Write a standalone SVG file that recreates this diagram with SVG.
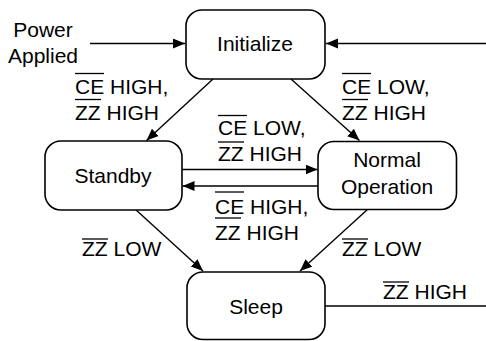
<svg xmlns="http://www.w3.org/2000/svg" width="486" height="341" viewBox="0 0 486 341">
<style>
.box{fill:#fff;stroke:#000;stroke-width:1.6}
.t{font-family:"Liberation Sans",Arial,sans-serif;font-size:21px;fill:#000}
.c{stroke:#000;stroke-width:1.4;fill:none}
.ol{stroke:#000;stroke-width:1.3}
</style>
<defs>
<marker id="ah" markerUnits="userSpaceOnUse" markerWidth="13" markerHeight="11" refX="12" refY="5" orient="auto">
<path d="M0,0 L12,5 L0,10 z" fill="#000"/>
</marker>
</defs>
<rect width="486" height="341" fill="#fff"/>
<g id="connectors">
<line class="c" x1="90" y1="43.5" x2="185" y2="43.5" marker-end="url(#ah)"/>
<line class="c" x1="486" y1="43.5" x2="326" y2="43.5" marker-end="url(#ah)"/>
<line class="c" x1="213" y1="79" x2="146.5" y2="140.5" marker-end="url(#ah)"/>
<line class="c" x1="291" y1="79" x2="359.5" y2="140.5" marker-end="url(#ah)"/>
<line class="c" x1="182" y1="169.5" x2="317.5" y2="169.5" marker-end="url(#ah)"/>
<line class="c" x1="318" y1="186" x2="182.5" y2="186" marker-end="url(#ah)"/>
<line class="c" x1="135" y1="209" x2="203" y2="271" marker-end="url(#ah)"/>
<line class="c" x1="368" y1="209" x2="300" y2="271" marker-end="url(#ah)"/>
<line class="c" x1="325" y1="306" x2="486" y2="306"/>
</g>
<g id="labels">
<text class="t" x="43" y="37" text-anchor="middle">Power</text>
<text class="t" x="43" y="63" text-anchor="middle">Applied</text>
<text class="t" x="75" y="94">CE HIGH,</text>
<line class="ol" x1="75" y1="73.5" x2="104" y2="73.5"/>
<text class="t" x="75" y="120">ZZ HIGH</text>
<line class="ol" x1="75" y1="99.5" x2="101" y2="99.5"/>
<text class="t" x="342" y="94">CE LOW,</text>
<line class="ol" x1="342" y1="73.5" x2="371" y2="73.5"/>
<text class="t" x="342" y="120">ZZ HIGH</text>
<line class="ol" x1="342" y1="99.5" x2="368" y2="99.5"/>
<text class="t" x="218" y="135">CE LOW,</text>
<line class="ol" x1="218" y1="115.5" x2="247" y2="115.5"/>
<text class="t" x="218" y="161">ZZ HIGH</text>
<line class="ol" x1="218" y1="142" x2="244" y2="142"/>
<text class="t" x="215" y="214">CE HIGH,</text>
<line class="ol" x1="215" y1="192" x2="244" y2="192"/>
<text class="t" x="215" y="240">ZZ HIGH</text>
<line class="ol" x1="215" y1="218" x2="241" y2="218"/>
<text class="t" x="82" y="256">ZZ LOW</text>
<line class="ol" x1="82" y1="239" x2="108" y2="239"/>
<text class="t" x="342" y="256">ZZ LOW</text>
<line class="ol" x1="342" y1="239" x2="368" y2="239"/>
<text class="t" x="383" y="299">ZZ HIGH</text>
<line class="ol" x1="383" y1="282" x2="409" y2="282"/>
</g>
<g id="initialize">
<rect class="box" x="186" y="10" width="139" height="69" rx="16"/>
<text class="t" x="255" y="51" text-anchor="middle">Initialize</text>
</g>
<g id="standby">
<rect class="box" x="45" y="141" width="137" height="69" rx="16"/>
<text class="t" x="113" y="183" text-anchor="middle">Standby</text>
</g>
<g id="normal">
<rect class="box" x="318" y="141.5" width="138.5" height="68" rx="16"/>
<text class="t" x="387" y="167" text-anchor="middle">Normal</text>
<text class="t" x="387" y="194" text-anchor="middle">Operation</text>
</g>
<g id="sleep">
<rect class="box" x="187" y="272" width="138" height="67.5" rx="16"/>
<text class="t" x="256" y="314" text-anchor="middle">Sleep</text>
</g>
</svg>
